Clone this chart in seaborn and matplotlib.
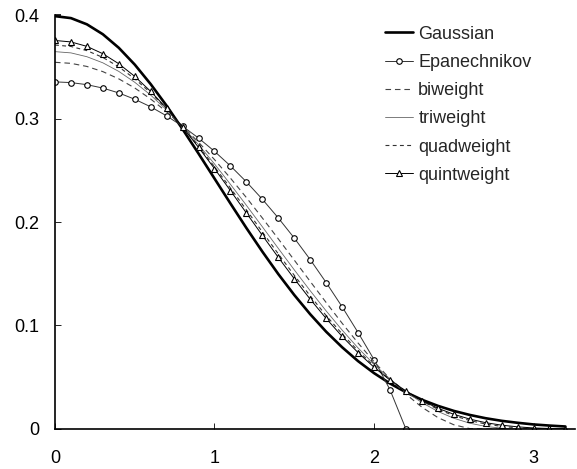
import matplotlib
matplotlib.use("Agg")
import matplotlib.pyplot as plt
import pandas as pd
import seaborn as sns

# Unit-variance kernel densities, tabulated on a 0.1 grid
x_vals = [0.0, 0.1, 0.2, 0.3, 0.4, 0.5, 0.6, 0.7, 0.8, 0.9, 1.0,
          1.1, 1.2, 1.3, 1.4, 1.5, 1.6, 1.7, 1.8, 1.9, 2.0,
          2.1, 2.2, 2.3, 2.4, 2.5, 2.6, 2.7, 2.8, 2.9, 3.0, 3.1, 3.2]

gaussian = [0.3989, 0.3970, 0.3910, 0.3814, 0.3683, 0.3521, 0.3332, 0.3123,
            0.2897, 0.2661, 0.2420, 0.2179, 0.1942, 0.1714, 0.1497, 0.1295,
            0.1109, 0.0940, 0.0790, 0.0656, 0.0540, 0.0440, 0.0355, 0.0283,
            0.0224, 0.0175, 0.0136, 0.0104, 0.0079, 0.0060, 0.0044, 0.0033,
            0.0024]

epanechnikov = [0.3354, 0.3347, 0.3327, 0.3294, 0.3247, 0.3186, 0.3113, 0.3025,
                0.2925, 0.2811, 0.2683, 0.2542, 0.2388, 0.2220, 0.2039, 0.1845,
                0.1637, 0.1415, 0.1181, 0.0932, 0.0671, 0.0380, 0.0000]

biweight = [0.3543, 0.3533, 0.3503, 0.3453, 0.3383, 0.3295, 0.3188, 0.3065,
            0.2925, 0.2771, 0.2603, 0.2424, 0.2236, 0.2039, 0.1837, 0.1632,
            0.1426, 0.1222, 0.1022, 0.0831, 0.0651, 0.0485, 0.0337, 0.0211,
            0.0111, 0.0041, 0.0004, 0.0, 0.0, 0.0, 0.0, 0.0, 0.0]

triweight = [0.3646, 0.3634, 0.3597, 0.3538, 0.3455, 0.3350, 0.3226, 0.3082,
             0.2922, 0.2747, 0.2561, 0.2364, 0.2161, 0.1954, 0.1745, 0.1538,
             0.1336, 0.1141, 0.0956, 0.0783, 0.0625, 0.0484, 0.0360, 0.0255,
             0.0170, 0.0104, 0.0056, 0.0025, 0.0008, 0.0001, 0.0, 0.0, 0.0]

quadweight = [0.3710, 0.3696, 0.3656, 0.3590, 0.3499, 0.3384, 0.3248, 0.3092,
              0.2919, 0.2732, 0.2534, 0.2328, 0.2117, 0.1904, 0.1692, 0.1485,
              0.1286, 0.1096, 0.0919, 0.0756, 0.0608, 0.0478, 0.0365, 0.0269,
              0.0191, 0.0129, 0.0082, 0.0048, 0.0025, 0.0011, 0.0004, 0.0001,
              0.0000]

quintweight = [0.3754, 0.3740, 0.3697, 0.3626, 0.3529, 0.3407, 0.3262, 0.3098,
               0.2917, 0.2721, 0.2516, 0.2303, 0.2087, 0.1871, 0.1658, 0.1452,
               0.1254, 0.1068, 0.0895, 0.0738, 0.0597, 0.0473, 0.0366, 0.0275,
               0.0201, 0.0142, 0.0096, 0.0061, 0.0037, 0.0021, 0.0010, 0.0005,
               0.0002]

x_ticks = [0, 1, 2, 3]
x_tick_labels = ["0", "1", "2", "3"]
y_ticks = [0, 0.1, 0.2, 0.3, 0.4]
y_tick_labels = ["0", "0.1", "0.2", "0.3", "0.4"]

sns.set_theme(style="ticks")
plt.rcParams["font.family"] = ["Liberation Sans", "DejaVu Sans"]
plt.rcParams["font.size"] = 13

fig = plt.figure(figsize=(5.77, 4.69), dpi=100)
ax = fig.add_axes([0.0953, 0.0853, 0.9012, 0.8827])

series = [
    ("Gaussian", gaussian, dict(color="black", lw=1.9)),
    ("Epanechnikov", epanechnikov,
     dict(color="#333333", lw=0.7, marker="o", markersize=4.0,
          markerfacecolor="white", markeredgecolor="black", markeredgewidth=0.8)),
    ("biweight", biweight, dict(color="#444444", lw=0.8, linestyle=(0, (5, 3.5)))),
    ("triweight", triweight, dict(color="#666666", lw=0.6)),
    ("quadweight", quadweight, dict(color="#333333", lw=0.8, linestyle=(0, (3.5, 3)))),
    ("quintweight", quintweight,
     dict(color="black", lw=0.7, marker="^", markersize=4.4,
          markerfacecolor="white", markeredgecolor="black", markeredgewidth=0.8)),
]

for name, vals, style in series:
    df = pd.DataFrame({"x": x_vals[:len(vals)], "density": vals})
    sns.lineplot(data=df, x="x", y="density", ax=ax, label=name,
                 estimator=None, sort=False, **style)

ax.set_xlim(0, 3.26)
ax.set_ylim(0, 0.4)
ax.set_xticks(x_ticks)
ax.set_xticklabels(x_tick_labels)
ax.set_yticks(y_ticks)
ax.set_yticklabels(y_tick_labels)
ax.set_xlabel("")
ax.set_ylabel("")

for side in ("top", "right"):
    ax.spines[side].set_visible(False)
for side in ("left", "bottom"):
    ax.spines[side].set_linewidth(1.2)
    ax.spines[side].set_color("black")

ax.tick_params(axis="x", direction="in", length=4, width=0.6, pad=15,
               labelsize=13, colors="black")
ax.tick_params(axis="y", direction="in", length=4, width=0.6, pad=11,
               labelsize=13, colors="black")
ax.yaxis.get_major_ticks()[-1].tick1line.set_markeredgewidth(1.2)

leg = ax.legend(loc="upper left", bbox_to_anchor=(0.667, 0.945),
                bbox_transform=fig.transFigure, frameon=False,
                handlelength=1.55, handletextpad=0.3, labelspacing=0.62,
                borderpad=0, borderaxespad=0, fontsize=13)

fig.savefig("out.png", dpi=100, facecolor="white")
